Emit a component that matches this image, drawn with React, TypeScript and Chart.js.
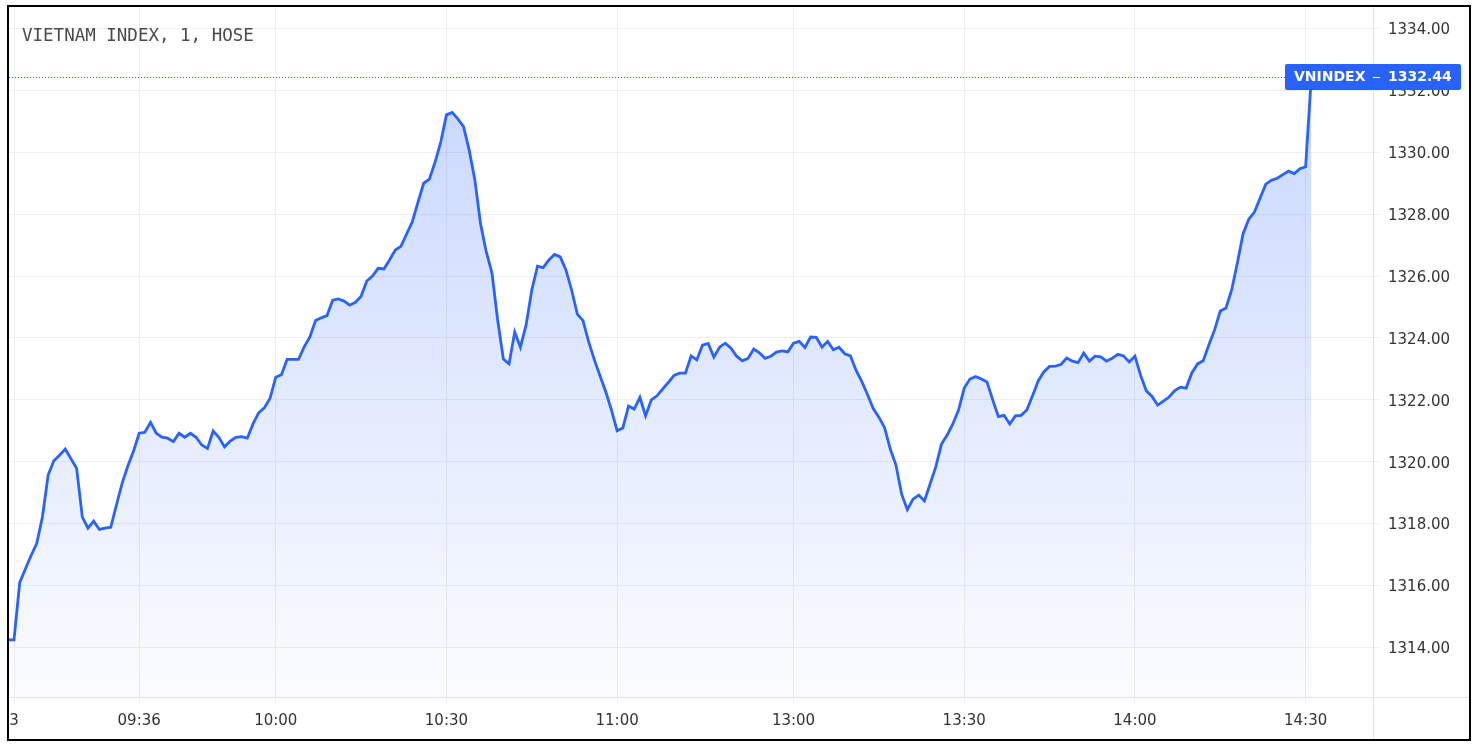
import React, { useEffect, useRef } from 'react';
import { Chart, registerables } from 'chart.js';

Chart.register(...registerables);

const title = 'VIETNAM INDEX, 1, HOSE';
const symbol = 'VNINDEX';
const dayLabel = '3';
const sessions: [string, string][] = [
  ['09:14', '11:30'],
  ['13:00', '14:30'],
  ['14:45', '14:45'],
];
const prevClose = 1314.24;
const closes: number[] = [
  1314.24, 1316.09, 1316.53, 1316.97, 1317.36, 1318.22, 1319.57, 1320.03, 1320.21, 1320.41,
  1320.10, 1319.79, 1318.22, 1317.85, 1318.08, 1317.81, 1317.85, 1317.88, 1318.60, 1319.30,
  1319.86, 1320.34, 1320.92, 1320.95, 1321.27, 1320.92, 1320.79, 1320.76, 1320.65, 1320.92,
  1320.79, 1320.92, 1320.79, 1320.54, 1320.43, 1320.99, 1320.79, 1320.48, 1320.67, 1320.79,
  1320.81, 1320.76, 1321.22, 1321.58, 1321.74, 1322.05, 1322.73, 1322.81, 1323.31, 1323.31,
  1323.31, 1323.71, 1324.03, 1324.56, 1324.65, 1324.72, 1325.22, 1325.26, 1325.19, 1325.06,
  1325.15, 1325.35, 1325.84, 1326.00, 1326.25, 1326.23, 1326.52, 1326.84, 1326.96, 1327.36,
  1327.75, 1328.39, 1329.00, 1329.13, 1329.68, 1330.33, 1331.21, 1331.29, 1331.08, 1330.83,
  1330.07, 1329.10, 1327.68, 1326.78, 1326.10, 1324.58, 1323.32, 1323.16, 1324.19, 1323.70,
  1324.42, 1325.55, 1326.32, 1326.27, 1326.52, 1326.70, 1326.62, 1326.20, 1325.55, 1324.77,
  1324.56, 1323.87, 1323.29, 1322.77, 1322.26, 1321.67, 1321.00, 1321.09, 1321.80, 1321.70,
  1322.08, 1321.48, 1322.00, 1322.13, 1322.35, 1322.56, 1322.79, 1322.86, 1322.86, 1323.42,
  1323.29, 1323.77, 1323.82, 1323.38, 1323.70, 1323.83, 1323.67, 1323.41, 1323.26, 1323.34,
  1323.64, 1323.52, 1323.34, 1323.41, 1323.54, 1323.58, 1323.55, 1323.83, 1323.89, 1323.69,
  1324.03, 1324.02, 1323.70, 1323.89, 1323.62, 1323.70, 1323.49, 1323.42, 1322.95, 1322.59,
  1322.17, 1321.72, 1321.44, 1321.10, 1320.41, 1319.89, 1318.95, 1318.45, 1318.79, 1318.92,
  1318.73, 1319.28, 1319.83, 1320.57, 1320.86, 1321.22, 1321.67, 1322.38, 1322.67, 1322.75,
  1322.67, 1322.58, 1322.00, 1321.46, 1321.50, 1321.22, 1321.48, 1321.50, 1321.67, 1322.13,
  1322.61, 1322.91, 1323.08, 1323.09, 1323.14, 1323.35, 1323.25, 1323.20, 1323.51, 1323.25,
  1323.41, 1323.39, 1323.25, 1323.34, 1323.47, 1323.42, 1323.22, 1323.41, 1322.79, 1322.29,
  1322.11, 1321.83, 1321.96, 1322.09, 1322.30, 1322.41, 1322.38, 1322.87, 1323.16, 1323.26,
  1323.78, 1324.26, 1324.87, 1324.97, 1325.55, 1326.42, 1327.36, 1327.84, 1328.07, 1328.52,
  1328.97, 1329.10, 1329.16, 1329.28, 1329.39, 1329.31, 1329.47, 1329.53, 1332.44,
];
const tickTimes = ['09:14', '09:36', '10:00', '10:30', '11:00', '13:00', '13:30', '14:00', '14:30'];
const yTickValues = [1314, 1316, 1318, 1320, 1322, 1324, 1326, 1328, 1330, 1332, 1334];

const toMin = (s: string) => Number(s.slice(0, 2)) * 60 + Number(s.slice(3));
const fmt = (m: number) =>
  `${String(Math.floor(m / 60)).padStart(2, '0')}:${String(m % 60).padStart(2, '0')}`;
const times: string[] = [];
for (const [a, b] of sessions) {
  for (let m = toMin(a); m <= toMin(b); m++) times.push(fmt(m));
}

const BLUE = '#2962ff';
const FONT = '"DejaVu Sans", sans-serif';

export default function App() {
  const ref = useRef<HTMLCanvasElement | null>(null);

  useEffect(() => {
    const canvas = ref.current;
    if (!canvas) return;
    const points = [{ x: -1, y: prevClose }, ...closes.map((v, i) => ({ x: i, y: v }))];
    const last = closes[closes.length - 1];

    const overlay = {
      id: 'overlay',
      afterDraw(chart: any) {
        const { ctx, chartArea, scales } = chart;
        const w = chart.width;
        const h = chart.height;
        ctx.save();
        // separators
        ctx.strokeStyle = '#e0e3eb';
        ctx.lineWidth = 1;
        ctx.beginPath();
        ctx.moveTo(Math.round(chartArea.right) + 0.5, 0);
        ctx.lineTo(Math.round(chartArea.right) + 0.5, h);
        ctx.moveTo(0, Math.round(chartArea.bottom) + 0.5);
        ctx.lineTo(w, Math.round(chartArea.bottom) + 0.5);
        ctx.stroke();
        // title
        ctx.font = '17.5px "DejaVu Sans Mono", monospace';
        ctx.fillStyle = '#4a4a4a';
        ctx.textBaseline = 'alphabetic';
        ctx.textAlign = 'left';
        ctx.fillText(title, 13, 34);
        // price line
        const py = Math.round(scales.y.getPixelForValue(last)) + 0.5;
        const boxL = chartArea.right - 88;
        const boxR = w - 8;
        ctx.setLineDash([1, 2]);
        ctx.strokeStyle = BLUE;
        ctx.beginPath();
        ctx.moveTo(chartArea.left, py);
        ctx.lineTo(boxL, py);
        ctx.stroke();
        ctx.setLineDash([]);
        // label box
        ctx.fillStyle = BLUE;
        ctx.beginPath();
        (ctx as any).roundRect(boxL, py - 13.5, boxR - boxL, 26, 2);
        ctx.fill();
        ctx.fillStyle = '#ffffff';
        ctx.font = `bold 14px ${FONT}`;
        ctx.textBaseline = 'middle';
        ctx.fillText(symbol, boxL + 9, py);
        ctx.strokeStyle = '#ffffff';
        ctx.beginPath();
        ctx.moveTo(chartArea.right, py);
        ctx.lineTo(chartArea.right + 7, py);
        ctx.stroke();
        ctx.fillText(last.toFixed(2), chartArea.right + 15, py);
        ctx.restore();
      },
    };

    const chart = new Chart(canvas, {
      type: 'line',
      data: {
        datasets: [
          {
            label: symbol,
            data: points,
            borderColor: BLUE,
            borderWidth: 2.8,
            pointRadius: 0,
            tension: 0,
            fill: 'start',
            backgroundColor: (c: any) => {
              const area = c.chart.chartArea;
              if (!area) return 'rgba(41,98,255,0.15)';
              const g = c.chart.ctx.createLinearGradient(0, area.top, 0, area.bottom);
              g.addColorStop(0, 'rgba(41,98,255,0.28)');
              g.addColorStop(1, 'rgba(41,98,255,0.02)');
              return g;
            },
          },
        ],
      },
      options: {
        animation: false,
        responsive: false,
        devicePixelRatio: 1,
        layout: { padding: 0 },
        plugins: { legend: { display: false }, tooltip: { enabled: false } },
        scales: {
          x: {
            type: 'linear',
            position: 'bottom',
            min: -0.88,
            max: 238.84,
            grid: { color: '#eeeff3', tickLength: 6, drawTicks: true },
            border: { display: false },
            ticks: {
              autoSkip: false,
              maxRotation: 0,
              minRotation: 0,
              padding: 9,
              color: '#333333',
              font: { family: FONT, size: 15 },
              callback: (v: any) => {
                const i = Math.round(Number(v));
                return i === 0 ? dayLabel : times[i];
              },
            },
            afterBuildTicks: (s: any) => {
              s.ticks = tickTimes.map((t) => ({ value: times.indexOf(t) }));
            },
            afterFit: (s: any) => {
              s.height = 42;
              s.paddingLeft = 0;
              s.paddingRight = 0;
            },
          },
          y: {
            type: 'linear',
            position: 'right',
            min: 1312.395,
            max: 1334.696,
            grid: { color: '#eeeff3', tickLength: 6, drawTicks: true },
            border: { display: false },
            ticks: {
              padding: 9,
              labelOffset: 2,
              color: '#333333',
              font: { family: FONT, size: 15 },
              callback: (v: any) => Number(v).toFixed(2),
            },
            afterBuildTicks: (s: any) => {
              s.ticks = yTickValues.map((v) => ({ value: v }));
            },
            afterFit: (s: any) => {
              s.width = 96;
              s.paddingTop = 0;
              s.paddingBottom = 0;
            },
          },
        },
      },
      plugins: [overlay],
    } as any);

    return () => chart.destroy();
  }, []);

  return (
    <div
      style={{
        position: 'absolute',
        left: 7,
        top: 5,
        width: 1460,
        height: 732,
        border: '2px solid #000',
        background: '#fff',
      }}
    >
      <canvas ref={ref} width={1460} height={732} style={{ display: 'block', width: 1460, height: 732 }} />
    </div>
  );
}
